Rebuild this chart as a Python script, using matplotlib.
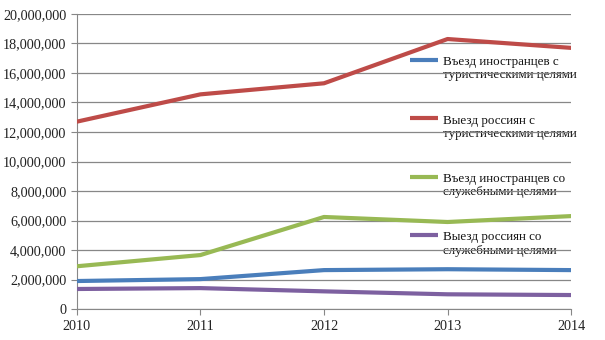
import matplotlib.pyplot as plt
from matplotlib.ticker import FuncFormatter

years = [2010, 2011, 2012, 2013, 2014]
foreign_tourist = [1900000, 2030000, 2640000, 2700000, 2640000]
russian_tourist = [12700000, 14550000, 15300000, 18300000, 17700000]
foreign_business = [2900000, 3660000, 6240000, 5900000, 6300000]
russian_business = [1360000, 1420000, 1200000, 1000000, 950000]

labels = ["Въезд иностранцев с\nтуристическими целями",
          "Выезд россиян с\nтуристическими целями",
          "Въезд иностранцев со\nслужебными целями",
          "Выезд россиян со\nслужебными целями"]
colors = ["#4a7ebb", "#be4b48", "#98b954", "#7d60a0"]

plt.rcParams['font.family'] = ['Liberation Serif', 'DejaVu Serif']

fig = plt.figure(figsize=(6.05, 3.4), dpi=100)
ax = fig.add_axes([0.127, 0.091, 0.817, 0.868])

all_series = [foreign_tourist, russian_tourist, foreign_business, russian_business]
for series, col in zip(all_series, colors):
    ax.plot(years, series, color=col, lw=3.0, zorder=3)

ax.set_xlim(2010, 2014)
ax.set_ylim(0, 20000000)
ax.set_xticks(years)
ax.set_yticks(range(0, 20000001, 2000000))
ax.yaxis.set_major_formatter(FuncFormatter(lambda v, p: f"{int(v):,}"))
ax.grid(axis='y', color='#878787', lw=0.9)
for s in ['top', 'right']:
    ax.spines[s].set_visible(False)
for s in ['left', 'bottom']:
    ax.spines[s].set_color('#878787')
ax.tick_params(axis='both', colors='#878787', length=4, labelsize=10.2, labelcolor='#222222')
ax.tick_params(axis='x', pad=4)

# legend drawn by hand: swatch next to the first line of each two-line label
leg_y0, leg_step = 0.844, 0.198
for i, (lab, col) in enumerate(zip(labels, colors)):
    y = leg_y0 - i * leg_step
    ax.plot([0.674, 0.731], [y, y], transform=ax.transAxes, color=col, lw=3.0,
            solid_capstyle='butt', clip_on=False, zorder=3)
    ax.text(0.741, y + 0.013, lab, transform=ax.transAxes, va='top', ha='left',
            fontsize=9.4, linespacing=1.12, color='#111111', zorder=1)

fig.savefig("out.png", dpi=100)
